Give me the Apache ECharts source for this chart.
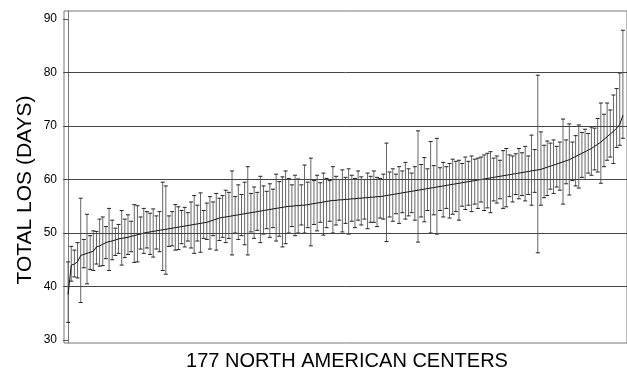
<!DOCTYPE html>
<html>
<head>
<meta charset="utf-8">
<script src="https://cdn.jsdelivr.net/npm/echarts@6/dist/echarts.min.js"></script>
<style>
  html, body { margin: 0; padding: 0; background: #fff; }
  #chart { width: 627px; height: 377px; }
</style>
</head>
<body>
<div id="chart"></div>
<script>
// point estimate per center, sorted ascending (days)
const meanLos = [
  38.5, 44.0, 44.2, 44.6, 45.8, 46.0, 46.2, 46.4, 46.6, 47.4,
  47.6, 47.9, 48.2, 48.4, 48.5, 48.7, 48.9, 49.0, 49.1, 49.2,
  49.4, 49.5, 49.7, 49.8, 50.0, 50.1, 50.2, 50.3, 50.4, 50.5,
  50.6, 50.7, 50.8, 50.9, 51.0, 51.1, 51.2, 51.3, 51.4, 51.5,
  51.6, 51.7, 51.8, 51.9, 52.0, 52.2, 52.4, 52.6, 52.8, 52.9,
  53.0, 53.1, 53.2, 53.3, 53.4, 53.5, 53.6, 53.7, 53.8, 53.9,
  54.0, 54.1, 54.2, 54.3, 54.4, 54.5, 54.6, 54.7, 54.8, 54.9,
  55.0, 55.0, 55.1, 55.1, 55.2, 55.2, 55.3, 55.4, 55.5, 55.6,
  55.7, 55.8, 55.9, 56.0, 56.1, 56.1, 56.2, 56.2, 56.3, 56.3,
  56.4, 56.4, 56.5, 56.5, 56.6, 56.6, 56.7, 56.7, 56.8, 56.8,
  56.9, 57.0, 57.1, 57.2, 57.3, 57.4, 57.5, 57.6, 57.7, 57.8,
  57.9, 58.0, 58.1, 58.2, 58.3, 58.4, 58.5, 58.6, 58.7, 58.8,
  58.9, 59.0, 59.1, 59.2, 59.3, 59.4, 59.5, 59.6, 59.7, 59.8,
  59.9, 60.0, 60.1, 60.2, 60.3, 60.4, 60.5, 60.6, 60.7, 60.8,
  60.9, 61.0, 61.1, 61.2, 61.3, 61.4, 61.5, 61.6, 61.7, 61.8,
  61.9, 62.1, 62.3, 62.5, 62.7, 62.9, 63.1, 63.3, 63.5, 63.7,
  64.0, 64.3, 64.6, 64.9, 65.2, 65.5, 65.8, 66.2, 66.6, 67.0,
  67.5, 68.0, 68.5, 69.0, 69.6, 70.3, 72.0
]

// lower end of each interval
const lowLos = [
  33.3, 41.0, 41.8, 41.6, 37.0, 43.5, 40.5, 43.2, 43.0, 44.2,
  43.8, 43.9, 45.2, 43.0, 45.0, 45.8, 46.2, 44.0, 45.4, 46.0,
  46.5, 44.5, 44.6, 47.0, 46.2, 47.2, 46.0, 45.5, 47.0, 46.5,
  43.0, 42.3, 47.5, 47.6, 46.8, 46.9, 48.0, 47.4, 48.5, 47.2,
  46.2, 48.5, 46.4, 49.0, 48.8, 47.0, 49.5, 46.8, 48.6, 49.2,
  48.2, 49.0, 45.9, 50.0, 48.8, 49.5, 47.8, 45.9, 50.2, 49.0,
  50.5, 48.2, 49.8, 50.8, 49.2, 51.0, 48.5, 49.4, 47.4, 48.0,
  50.0, 51.2, 49.5, 50.0, 51.5, 50.0, 51.0, 47.6, 51.6, 50.4,
  52.0, 49.6, 51.0, 52.2, 50.0, 51.5, 52.4, 50.2, 51.8, 49.8,
  52.2, 51.0, 52.4, 51.5, 52.6, 50.8, 52.0, 52.0, 51.2, 52.8,
  52.6, 48.4, 53.0, 52.2, 53.6, 51.8, 53.8, 52.6, 53.2, 53.8,
  52.4, 48.3, 53.0, 52.1, 54.2, 50.0, 53.4, 49.8, 54.2, 53.0,
  54.6, 52.8, 53.5, 54.0, 52.4, 55.0, 54.4, 55.2, 54.0, 55.4,
  54.6, 55.8, 54.2, 54.7, 53.8, 56.0, 55.6, 56.4, 54.6, 54.9,
  56.8, 55.8, 57.2, 56.4, 57.0, 56.0, 57.2, 55.2, 57.6, 46.3,
  55.2, 56.6, 57.0, 58.2, 57.4, 58.6, 58.0, 55.4, 59.2, 57.1,
  59.8, 58.8, 58.4, 60.4, 60.0, 61.2, 60.8, 61.8, 61.4, 59.3,
  62.4, 63.6, 64.2, 63.0, 66.0, 66.4, 67.7
]

// upper end of each interval
const highLos = [
  44.6, 47.5, 46.8, 48.2, 56.5, 48.8, 53.5, 49.5, 50.4, 50.3,
  52.6, 53.0, 51.2, 54.6, 52.4, 50.9, 51.6, 54.2, 52.6, 53.4,
  52.2, 55.3, 55.1, 53.0, 54.6, 54.0, 53.7, 54.5, 53.2, 54.0,
  59.5, 58.8, 53.2, 54.0, 55.3, 54.9, 54.2, 54.8, 53.8, 55.8,
  57.0, 55.2, 57.5, 54.2, 55.6, 56.8, 55.8, 57.4, 56.5, 57.0,
  58.0, 57.6, 61.6, 56.8, 59.0, 57.2, 59.5, 62.4, 57.4, 58.6,
  57.6, 60.6, 58.8, 57.8, 59.2, 58.2, 61.0, 59.6, 60.5, 61.6,
  60.2, 59.0, 60.8, 60.1, 59.0, 62.7, 59.5, 64.0, 59.8, 60.8,
  59.4, 61.2, 60.2, 59.8, 62.4, 60.6, 60.0, 61.8, 60.4, 62.0,
  60.8, 60.2, 61.6, 60.5, 60.0, 61.2, 60.6, 61.6, 60.4, 60.2,
  61.0, 66.8, 61.4, 62.0, 61.0, 62.4, 61.6, 63.2, 62.0, 61.2,
  62.4, 69.1, 62.8, 64.1, 62.0, 67.1, 62.6, 67.7, 62.2, 63.2,
  62.4, 63.0, 63.8, 63.4, 63.6, 63.0, 64.2, 63.4, 64.4, 63.8,
  64.0, 64.2, 64.6, 64.9, 65.2, 64.0, 64.4, 63.6, 65.4, 65.8,
  64.6, 64.4, 64.8, 65.8, 65.0, 66.2, 64.4, 68.3, 65.6, 79.5,
  68.9, 66.4, 67.2, 66.8, 67.4, 66.2, 67.0, 71.3, 67.4, 70.4,
  67.0, 68.2, 70.2, 68.8, 69.4, 68.6, 69.8, 69.6, 71.4, 74.3,
  72.2, 74.3, 73.0, 75.8, 77.0, 79.9, 87.9
]

const yTicks = [30, 40, 50, 60, 70, 80, 90]
const gridValues = [40, 50, 60, 70, 80]

const chart = echarts.init(document.getElementById('chart'), null, { renderer: 'canvas' })

const barData = meanLos.map((m, i) => [i, lowLos[i], highLos[i]])
const lineData = meanLos.map((m, i) => [i, m])

const option = {
  animation: false,
  grid: {
    left: 64, right: 0, top: 11, bottom: 34,
    show: true, borderColor: '#777', borderWidth: 1
  },
  xAxis: {
    type: 'value', min: -1.3, max: 177.3,
    axisLine: { show: false }, axisTick: { show: false },
    axisLabel: { show: false }, splitLine: { show: false }
  },
  yAxis: {
    type: 'value', min: 29.44, max: 91.5,
    axisLine: { show: true, lineStyle: { color: '#777' } },
    axisTick: { show: true, customValues: yTicks, length: 5, lineStyle: { color: '#555' } },
    axisLabel: {
      customValues: yTicks, margin: 7, color: '#000',
      fontSize: 12, fontFamily: '"Liberation Sans", Arial, sans-serif'
    },
    splitLine: { show: false }
  },
  graphic: [
    {
      type: 'text', x: 25, y: 190, rotation: Math.PI / 2,
      style: {
        text: 'TOTAL LOS (DAYS)', fill: '#000',
        font: '21px "Liberation Sans", Arial, sans-serif',
        textAlign: 'center', textVerticalAlign: 'middle'
      }
    },
    {
      type: 'text', x: 347, y: 361,
      style: {
        text: '177 NORTH AMERICAN CENTERS', fill: '#000',
        font: '20px "Liberation Sans", Arial, sans-serif',
        textAlign: 'center', textVerticalAlign: 'middle'
      }
    }
  ],
  series: [
    {
      type: 'custom',
      data: barData,
      renderItem: function (params, api) {
        const x = api.value(0)
        const lo = api.coord([x, api.value(1)])
        const hi = api.coord([x, api.value(2)])
        const cap = 2
        return {
          type: 'group',
          children: [
            { type: 'line', shape: { x1: lo[0], y1: lo[1], x2: hi[0], y2: hi[1] }, style: { stroke: '#666', lineWidth: 1 } },
            { type: 'line', shape: { x1: hi[0] - cap, y1: hi[1], x2: hi[0] + cap, y2: hi[1] }, style: { stroke: '#222', lineWidth: 1 } },
            { type: 'line', shape: { x1: lo[0] - cap, y1: lo[1], x2: lo[0] + cap, y2: lo[1] }, style: { stroke: '#222', lineWidth: 1 } }
          ]
        }
      },
      z: 3
    },
    {
      type: 'line',
      data: lineData,
      showSymbol: false,
      symbol: 'none',
      lineStyle: { color: '#111', width: 1 },
      z: 4,
      markLine: {
        silent: true,
        symbol: ['none', 'none'],
        label: { show: false },
        lineStyle: { color: '#444', type: 'solid', width: 1 },
        data: gridValues.map(v => ({ yAxis: v }))
      }
    }
  ]
}

chart.setOption(option)
</script>
</body>
</html>
